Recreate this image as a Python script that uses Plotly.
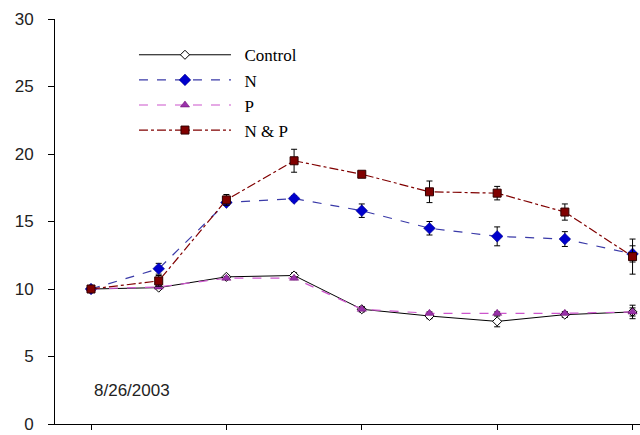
import plotly.graph_objects as go

x_idx = [0, 1, 2, 3, 4, 5, 6, 7, 8]
x_ticks = [0, 2, 4, 6, 8]
y_ticks = [0, 5, 10, 15, 20, 25, 30]

control = [10.0, 10.1, 10.9, 11.0, 8.5, 8.0, 7.6, 8.1, 8.3]
control_err = [0.1, 0.1, 0.1, 0.2, 0.2, 0.2, 0.4, 0.2, 0.3]
n_vals = [10.0, 11.5, 16.4, 16.7, 15.8, 14.5, 13.9, 13.7, 12.6]
n_err = [0.1, 0.4, 0.2, 0.2, 0.5, 0.5, 0.7, 0.55, 0.6]
p_vals = [10.0, 10.15, 10.8, 10.8, 8.5, 8.2, 8.2, 8.2, 8.3]
p_err = [0.1, 0.1, 0.1, 0.1, 0.1, 0.1, 0.1, 0.1, 0.5]
np_vals = [10.0, 10.6, 16.6, 19.5, 18.5, 17.2, 17.1, 15.7, 12.4]
np_err = [0.1, 0.4, 0.4, 0.85, 0.2, 0.8, 0.5, 0.6, 1.3]

series_names = ["Control", "N", "P", "N & P"]
date_label = "8/26/2003"

def eb(arr):
    return dict(type="data", array=arr, visible=True, color="black", thickness=1, width=3)

pad = "\u00a0\u00a0"

fig = go.Figure()
fig.add_trace(go.Scatter(
    x=x_idx, y=control, name=pad + series_names[0], mode="lines+markers",
    line=dict(color="black", width=1),
    marker=dict(symbol="diamond", size=7, color="white", line=dict(color="black", width=1)),
    error_y=eb(control_err)))
fig.add_trace(go.Scatter(
    x=x_idx, y=n_vals, name=pad + series_names[1], mode="lines+markers",
    line=dict(color="#3a3aa8", width=1.2, dash="dash"),
    marker=dict(symbol="diamond", size=9, color="#0000cc", line=dict(color="#000080", width=0.5)),
    error_y=eb(n_err)))
fig.add_trace(go.Scatter(
    x=x_idx, y=p_vals, name=pad + series_names[2], mode="lines+markers",
    line=dict(color="#cc55cc", width=1.2, dash="dash"),
    marker=dict(symbol="triangle-up", size=8, color="#9933aa", line=dict(color="#660066", width=0.5)),
    error_y=eb(p_err)))
fig.add_trace(go.Scatter(
    x=x_idx, y=np_vals, name=pad + series_names[3], mode="lines+markers",
    line=dict(color="#800000", width=1.2, dash="dashdot"),
    marker=dict(symbol="square", size=8, color="#800000", line=dict(color="#300000", width=1)),
    error_y=eb(np_err)))

fig.add_annotation(text=date_label, xref="x", yref="y", x=0.02, y=2.5, xanchor="left",
                   showarrow=False, font=dict(family="Liberation Sans", size=17, color="#222"))

fig.update_layout(
    width=640, height=435,
    margin=dict(l=55, r=0, t=19, b=11),
    paper_bgcolor="white", plot_bgcolor="white",
    showlegend=True,
    legend=dict(x=0.135, y=0.955, xanchor="left", yanchor="top",
                font=dict(family="Liberation Serif", size=17, color="black"),
                bgcolor="rgba(0,0,0,0)", itemwidth=92, tracegroupgap=0),
    xaxis=dict(range=[-0.532, 8.11], tickvals=x_ticks, showticklabels=False,
               ticks="outside", ticklen=5, tickcolor="black", showline=True,
               linecolor="black", linewidth=1, showgrid=False, zeroline=False),
    yaxis=dict(range=[0, 30], tickvals=y_ticks, ticks="outside", ticklen=6,
               tickcolor="black", showline=True, linecolor="black", linewidth=1,
               showgrid=False, zeroline=False, ticklabelstandoff=11,
               tickfont=dict(family="Liberation Sans", size=17, color="#222")),
)
fig.write_html("out.html")
